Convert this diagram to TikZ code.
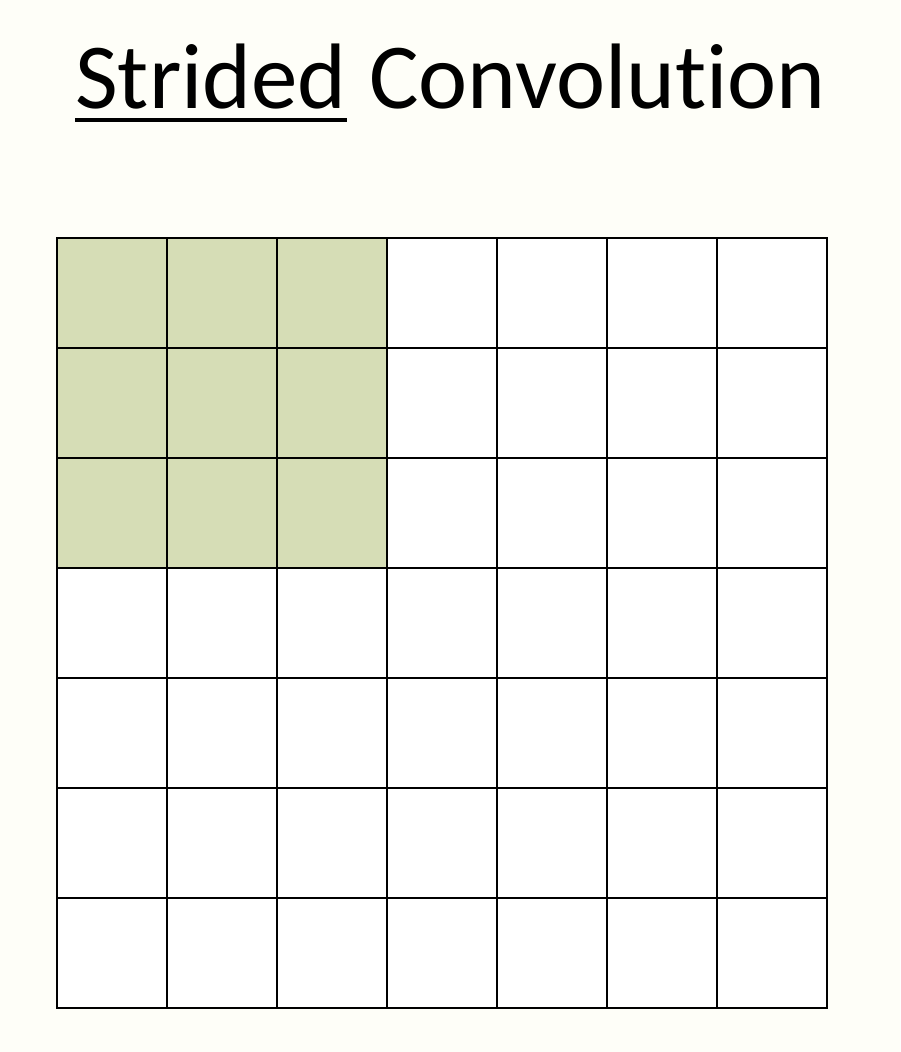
\documentclass[tikz,border=0pt]{standalone}
\usepackage{fontspec}
\setmainfont[Ligatures=NoCommon]{Carlito}
\usetikzlibrary{positioning}
\definecolor{pagebg}{RGB}{254,254,248}
\definecolor{kernelgreen}{RGB}{214,221,182}

\begin{document}
\begin{tikzpicture}[x=1pt,y=1pt,
    title_text/.style ={inner sep=0pt, font=\fontsize{93}{100}\selectfont},
    cell/.style ={rectangle, draw=black, line width=2pt, fill=white,
      minimum size=110pt, inner sep=0pt},
    cell_kernel/.style ={cell, fill=kernelgreen}]
    % page
    \fill[pagebg] (0,0) rectangle (900,-1052);
    \useasboundingbox (0,0) rectangle (900,-1052);
    % title
    \node [title_text, anchor=base west] (title_strided) at (75,-108) {Strided};
    \node [title_text, base right=22pt of title_strided] (title_conv) {Convolution};
    \draw [line width=3.5pt] ([yshift=-12pt]title_strided.base west) -- ([yshift=-12pt]title_strided.base east);
    % input grid, 7x7
    \foreach \r in {0,...,6} {
      \foreach \c in {0,...,6} {
        \node [cell] (cell-\r-\c) at (112+110*\c,-293-110*\r) {};
      }
    }
    % kernel window
    \foreach \r in {0,1,2} {
      \foreach \c in {0,1,2} {
        \node [cell_kernel] (kernel-\r-\c) at (cell-\r-\c) {};
      }
    }
\end{tikzpicture}
\end{document}
